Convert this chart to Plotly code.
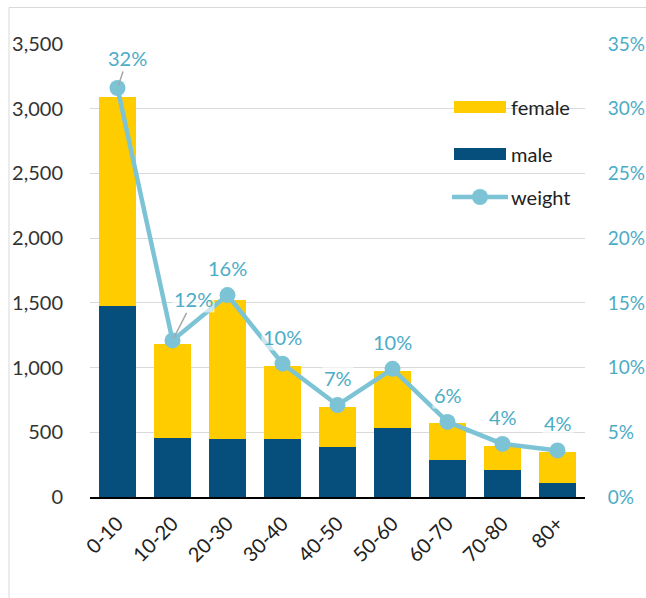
import plotly.graph_objects as go

categories = ["0-10", "10-20", "20-30", "30-40", "40-50", "50-60", "60-70", "70-80", "80+"]
male = [1478, 456, 447, 447, 386, 532, 286, 209, 108]
female = [1612, 726, 1075, 565, 309, 441, 286, 185, 240]
weight = [0.316, 0.121, 0.156, 0.103, 0.071, 0.099, 0.058, 0.041, 0.036]
left_ticks = [0, 500, 1000, 1500, 2000, 2500, 3000, 3500]
right_ticks = [0, 0.05, 0.10, 0.15, 0.20, 0.25, 0.30, 0.35]

FONT = "Lato"
FS = 20
TEAL_TXT = "#4BACC6"
TEAL_LINE = "#7CC4D5"
MALE_C = "#064E7C"
FEMALE_C = "#FFCC00"

W, H = 646, 598
L, R, T, B = 90, 61, 44, 101
PW, PH = W - L - R, H - T - B


def px(xp):
    return (xp - L) / PW


def py(yp):
    return 1 - (yp - T) / PH


fig = go.Figure()
fig.add_trace(go.Bar(x=categories, y=male, name="male", marker_color=MALE_C,
                     marker_line_width=0))
fig.add_trace(go.Bar(x=categories, y=female, name="female", marker_color=FEMALE_C,
                     marker_line_width=0))
fig.add_trace(go.Scatter(x=categories, y=weight, name="weight", yaxis="y2",
                         mode="lines+markers", line=dict(color=TEAL_LINE, width=4.5),
                         marker=dict(size=16, color=TEAL_LINE)))

# data labels
offsets = {0: (10, -30), 1: (21, -41)}
for i, (c, w) in enumerate(zip(categories, weight)):
    txt = f"{w:.0%}"
    if i in offsets:
        ax, ay = offsets[i]
        fig.add_annotation(x=c, y=w, xref="x", yref="y2", text=txt, showarrow=True,
                           arrowhead=0, arrowwidth=1.5, arrowcolor="#A6A6A6",
                           ax=ax, ay=ay, standoff=3,
                           font=dict(family=FONT, size=FS, color=TEAL_TXT),
                           bgcolor="rgba(255,255,255,0.6)")
    else:
        fig.add_annotation(x=c, y=w, xref="x", yref="y2", text=txt, showarrow=False,
                           yshift=27, font=dict(family=FONT, size=FS, color=TEAL_TXT),
                           bgcolor="rgba(255,255,255,0.6)")

# chart border (Excel chart frame)
fig.add_shape(type="rect", xref="paper", yref="paper", x0=px(9), x1=px(700), y0=py(700), y1=py(7.5),
              line=dict(color="#D9D9D9", width=1), layer="below")

# legend (drawn to match the wide Excel swatches)
legend_items = [("female", FEMALE_C, 107, "bar"), ("male", MALE_C, 154, "bar"), ("weight", TEAL_LINE, 197, "line")]
for name, col, yc, kind in legend_items:
    if kind == "bar":
        fig.add_shape(type="rect", xref="paper", yref="paper", x0=px(454), x1=px(506),
                      y0=py(yc + 6), y1=py(yc - 6), fillcolor=col, line_width=0)
    else:
        fig.add_shape(type="line", xref="paper", yref="paper", x0=px(452), x1=px(508),
                      y0=py(yc), y1=py(yc), line=dict(color=col, width=4.5))
        fig.add_shape(type="circle", xref="paper", yref="paper", x0=px(472), x1=px(488),
                      y0=py(yc + 8), y1=py(yc - 8), fillcolor=col, line_width=0)
    fig.add_annotation(x=px(509), y=py(yc), xref="paper", yref="paper", text=name,
                       showarrow=False, xanchor="left", yanchor="middle",
                       font=dict(family=FONT, size=FS, color="#222222"))

fig.update_layout(
    width=W, height=H,
    margin=dict(l=L, r=R, t=T, b=B, autoexpand=False),
    barmode="stack", bargap=0.34,
    plot_bgcolor="white", paper_bgcolor="white",
    font=dict(family=FONT, size=FS, color="#333333"),
    showlegend=False,
    xaxis=dict(range=[-0.5, len(categories) - 0.5], tickangle=-45, showline=True,
               linecolor="black", linewidth=2, ticklabelstandoff=5,
               ticks="", tickfont=dict(size=FS, color="#222222"), showgrid=False,
               automargin=False),
    yaxis=dict(range=[0, 3500], tickvals=left_ticks, tickformat=",",
               showgrid=True, gridcolor="#D9D9D9", gridwidth=1, zeroline=False,
               ticks="outside", ticklen=22, tickcolor="rgba(0,0,0,0)",
               tickfont=dict(size=FS, color="#333333"), automargin=False),
    yaxis2=dict(range=[0, 0.35], tickvals=right_ticks, tickformat=".0%",
                overlaying="y", side="right", showgrid=False, zeroline=False,
                ticks="outside", ticklen=18, tickcolor="rgba(0,0,0,0)",
                tickfont=dict(size=19, color=TEAL_TXT), automargin=False),
)

fig.write_html("out.html", config={"displayModeBar": False},
               post_script="document.body.style.margin='0';document.body.style.overflow='hidden';")
